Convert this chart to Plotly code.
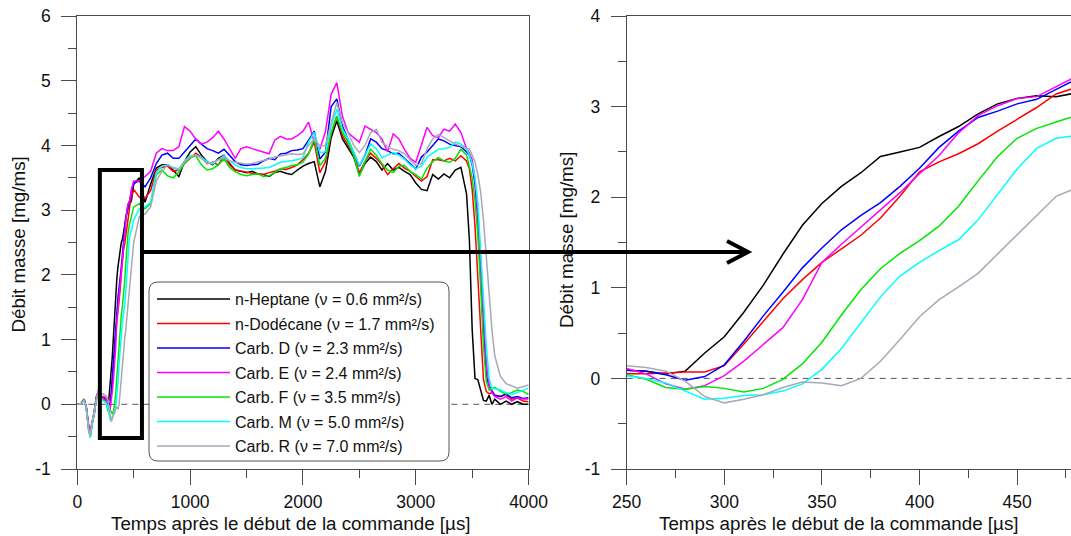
import plotly.graph_objects as go

# ---------------- data ----------------
NAMES = [
    "n-Heptane (ν = 0.6 mm²/s)",
    "n-Dodécane (ν = 1.7 mm²/s)",
    "Carb. D (ν = 2.3 mm²/s)",
    "Carb. E (ν = 2.4 mm²/s)",
    "Carb. F (ν = 3.5 mm²/s)",
    "Carb. M (ν = 5.0 mm²/s)",
    "Carb. R (ν = 7.0 mm²/s)",
]
COLORS = ["#000000", "#ff0000", "#0000ff", "#ff00ff", "#00e600", "#00ffff", "#a8a8b8"]

# early part (0-230 µs)
T_EARLY = [0, 30, 60, 80, 100, 115, 130, 150, 170, 190, 210, 230]
EARLY_HEPTANE = [0, 0.0, 0.08, -0.05, -0.35, -0.48, -0.32, -0.12, 0.12, 0.20, 0.08, 0.12]
EARLY_DODECANE = [0, 0.0, 0.08, -0.06, -0.38, -0.50, -0.30, -0.15, 0.10, 0.18, 0.10, 0.08]
EARLY_D = [0, 0.0, 0.07, -0.05, -0.36, -0.49, -0.31, -0.14, 0.10, 0.17, 0.12, 0.10]
EARLY_E = [0, 0.0, 0.08, -0.04, -0.30, -0.42, -0.28, -0.15, 0.12, 0.22, 0.12, 0.12]
EARLY_F = [0, 0.0, 0.07, -0.06, -0.38, -0.50, -0.33, -0.13, 0.08, 0.20, 0.10, 0.06]
EARLY_M = [0, 0.0, 0.06, -0.06, -0.40, -0.52, -0.33, -0.14, 0.08, 0.20, 0.10, 0.05]
EARLY_R = [0, 0.0, 0.06, -0.07, -0.40, -0.50, -0.30, -0.12, 0.10, 0.25, 0.15, 0.16]

# needle-opening part (250-480 µs, 10 µs steps) - shown in the zoom panel
T_ZOOM = [250, 260, 270, 280, 290, 300, 310, 320, 330, 340, 350, 360,
          370, 380, 390, 400, 410, 420, 430, 440, 450, 460, 470, 480]
ZOOM_HEPTANE = [0.09, 0.08, 0.05, 0.08, 0.28, 0.46, 0.73, 1.03, 1.37, 1.69, 1.93, 2.12,
                2.27, 2.45, 2.50, 2.55, 2.67, 2.78, 2.92, 3.03, 3.09, 3.12, 3.11, 3.15]
ZOOM_DODECANE = [0.05, 0.05, 0.06, 0.07, 0.07, 0.14, 0.38, 0.63, 0.88, 1.09, 1.28, 1.43,
                 1.58, 1.77, 2.01, 2.28, 2.39, 2.48, 2.59, 2.73, 2.86, 2.99, 3.14, 3.21]
ZOOM_D = [0.09, 0.08, 0.04, -0.02, 0.02, 0.15, 0.41, 0.69, 0.95, 1.22, 1.44, 1.64,
          1.80, 1.94, 2.12, 2.32, 2.55, 2.73, 2.88, 2.95, 3.03, 3.08, 3.19, 3.30]
ZOOM_E = [0.11, 0.05, -0.06, -0.12, -0.08, 0.03, 0.19, 0.37, 0.56, 0.87, 1.28, 1.48,
          1.67, 1.86, 2.05, 2.26, 2.46, 2.71, 2.90, 3.01, 3.09, 3.11, 3.22, 3.33]
ZOOM_F = [0.04, -0.01, -0.10, -0.12, -0.09, -0.11, -0.15, -0.11, -0.01, 0.16, 0.40, 0.70,
          0.98, 1.21, 1.38, 1.52, 1.68, 1.90, 2.18, 2.45, 2.65, 2.76, 2.83, 2.90]
ZOOM_M = [0.03, 0.00, -0.05, -0.14, -0.23, -0.22, -0.19, -0.18, -0.14, -0.06, 0.10, 0.33,
          0.62, 0.90, 1.13, 1.28, 1.41, 1.53, 1.75, 2.03, 2.31, 2.54, 2.65, 2.68]
ZOOM_R = [0.14, 0.12, 0.08, -0.03, -0.20, -0.27, -0.23, -0.18, -0.10, -0.04, -0.05, -0.08,
          0.00, 0.19, 0.43, 0.68, 0.87, 1.01, 1.16, 1.37, 1.58, 1.80, 2.01, 2.10]

# rest of the injection (500-4000 µs)
T_LATE = [500, 550, 600, 650, 700, 750, 800, 850, 900, 950, 1000, 1050, 1100, 1150, 1200,
          1250, 1300, 1350, 1400, 1450, 1500, 1550, 1600, 1650, 1700, 1750, 1800, 1850,
          1900, 1950, 2000, 2050, 2100, 2150, 2200, 2250, 2300, 2350, 2400, 2450, 2500,
          2550, 2600, 2650, 2700, 2750, 2800, 2850, 2900, 2950, 3000, 3050, 3100, 3150,
          3200, 3250, 3300, 3350, 3400, 3450, 3475, 3500, 3525, 3550, 3575, 3600, 3625,
          3650, 3675, 3700, 3750, 3800, 3850, 3900, 3950, 4000]
LATE_HEPTANE = [3.40, 3.50, 3.12, 3.40, 3.65, 3.70, 3.70, 3.62, 3.52, 3.75, 3.90, 3.98, 3.85, 3.75, 3.70,
                3.80, 3.85, 3.72, 3.62, 3.60, 3.58, 3.60, 3.56, 3.55, 3.52, 3.58, 3.60, 3.57,
                3.55, 3.62, 3.68, 3.72, 3.75, 3.36, 3.60, 4.12, 4.38, 4.10, 3.95, 3.82, 3.55,
                3.72, 3.82, 3.75, 3.62, 3.72, 3.62, 3.66, 3.60, 3.55, 3.42, 3.32, 3.30, 3.55,
                3.48, 3.56, 3.50, 3.62, 3.66, 3.25, 2.55, 1.15, 0.40, 0.38, 0.22, 0.06, 0.05,
                0.14, 0.00, 0.08, 0.00, 0.05, 0.00, 0.04, 0.00, 0.00]
LATE_DODECANE = [3.32, 3.20, 3.18, 3.30, 3.62, 3.66, 3.68, 3.60, 3.62, 3.72, 3.80, 3.88, 3.82, 3.72, 3.74,
                 3.70, 3.84, 3.70, 3.62, 3.60, 3.58, 3.57, 3.56, 3.55, 3.58, 3.60, 3.64, 3.63,
                 3.66, 3.70, 3.78, 3.88, 4.05, 3.58, 3.75, 4.18, 4.45, 4.15, 4.00, 3.85, 3.58,
                 3.75, 3.88, 3.80, 3.70, 3.55, 3.64, 3.72, 3.65, 3.60, 3.52, 3.45, 3.52, 3.78,
                 3.78, 3.76, 3.80, 3.76, 3.84, 3.76, 3.64, 3.32, 2.75, 1.95, 1.05, 0.38, 0.20,
                 0.16, 0.18, 0.14, 0.12, 0.15, 0.08, 0.10, 0.05, 0.04]
LATE_D = [3.42, 3.45, 3.36, 3.50, 3.72, 3.85, 3.88, 3.80, 3.80, 3.90, 4.00, 4.10, 4.02, 3.95, 3.92,
          3.88, 3.94, 3.85, 3.75, 3.70, 3.69, 3.70, 3.71, 3.76, 3.80, 3.78, 3.87, 3.88,
          3.92, 3.93, 3.95, 4.08, 4.22, 3.79, 3.90, 4.60, 4.72, 4.30, 4.10, 3.90, 3.68,
          3.85, 4.10, 4.05, 3.95, 3.92, 3.87, 3.88, 3.80, 3.72, 3.64, 3.82, 3.90, 4.00,
          4.10, 4.07, 4.02, 4.00, 3.98, 3.90, 3.85, 3.70, 3.40, 2.85, 2.05, 1.20, 0.45,
          0.28, 0.20, 0.14, 0.12, 0.16, 0.10, 0.12, 0.09, 0.10]
LATE_E = [3.45, 3.45, 3.52, 3.60, 3.88, 3.95, 3.92, 3.92, 3.98, 4.29, 4.22, 4.10, 4.02, 4.05, 4.12,
          4.22, 4.10, 3.95, 3.80, 3.95, 3.98, 3.95, 3.92, 3.90, 3.87, 4.08, 4.14, 4.10,
          4.10, 4.15, 4.22, 4.36, 4.05, 3.94, 4.22, 4.79, 4.97, 4.45, 4.20, 4.12, 4.05,
          4.30, 4.25, 4.20, 4.10, 3.90, 4.18, 4.10, 3.94, 3.80, 3.74, 4.00, 4.28, 4.15,
          4.12, 4.25, 4.22, 4.33, 4.20, 3.95, 3.88, 3.78, 3.48, 2.95, 2.25, 1.40, 0.65,
          0.30, 0.18, 0.12, 0.08, 0.12, 0.05, 0.10, 0.08, 0.08]
LATE_F = [3.05, 3.10, 3.02, 3.10, 3.55, 3.62, 3.53, 3.50, 3.59, 3.72, 3.81, 3.84, 3.70, 3.62, 3.64,
          3.70, 3.79, 3.66, 3.59, 3.55, 3.53, 3.55, 3.56, 3.52, 3.53, 3.58, 3.64, 3.66,
          3.69, 3.70, 3.74, 3.87, 4.10, 3.69, 3.80, 4.20, 4.45, 4.20, 4.05, 3.85, 3.52,
          3.75, 3.94, 3.85, 3.72, 3.62, 3.58, 3.68, 3.69, 3.60, 3.55, 3.48, 3.65, 3.75,
          3.81, 3.76, 3.74, 3.80, 3.94, 3.85, 3.68, 3.50, 3.15, 2.60, 1.80, 0.90, 0.35,
          0.22, 0.24, 0.26, 0.20, 0.16, 0.18, 0.22, 0.20, 0.15]
LATE_M = [2.85, 3.02, 3.05, 3.12, 3.58, 3.68, 3.70, 3.66, 3.64, 3.76, 3.84, 3.85, 3.82, 3.75, 3.71,
          3.78, 3.84, 3.76, 3.70, 3.66, 3.64, 3.64, 3.64, 3.65, 3.66, 3.70, 3.74, 3.75,
          3.76, 3.78, 3.81, 4.05, 4.20, 3.89, 3.90, 4.30, 4.56, 4.25, 4.10, 3.90, 3.69,
          3.85, 4.02, 3.95, 3.81, 3.85, 3.89, 3.85, 3.79, 3.70, 3.64, 3.68, 3.82, 3.88,
          3.94, 3.95, 3.97, 4.05, 4.02, 3.95, 3.85, 3.72, 3.50, 3.12, 2.45, 1.65, 0.90,
          0.40, 0.25, 0.24, 0.22, 0.18, 0.15, 0.18, 0.22, 0.25]
LATE_R = [2.50, 2.90, 2.94, 3.05, 3.45, 3.60, 3.70, 3.65, 3.62, 3.75, 3.82, 3.85, 3.80, 3.72, 3.74,
          3.78, 3.81, 3.76, 3.74, 3.72, 3.71, 3.72, 3.74, 3.77, 3.79, 3.82, 3.84, 3.86,
          3.87, 3.86, 3.87, 4.00, 4.10, 3.99, 4.00, 4.35, 4.66, 4.35, 4.20, 4.00, 3.89,
          4.00, 4.20, 4.25, 4.05, 3.98, 3.94, 3.92, 3.87, 3.78, 3.69, 3.72, 3.95, 4.10,
          4.17, 4.12, 4.07, 4.02, 3.99, 3.95, 3.95, 3.85, 3.75, 3.55, 3.28, 2.85, 2.30,
          1.70, 1.15, 0.75, 0.43, 0.32, 0.28, 0.25, 0.27, 0.30]

EARLY = [EARLY_HEPTANE, EARLY_DODECANE, EARLY_D, EARLY_E, EARLY_F, EARLY_M, EARLY_R]
ZOOM = [ZOOM_HEPTANE, ZOOM_DODECANE, ZOOM_D, ZOOM_E, ZOOM_F, ZOOM_M, ZOOM_R]
LATE = [LATE_HEPTANE, LATE_DODECANE, LATE_D, LATE_E, LATE_F, LATE_M, LATE_R]

LEFT_XTICKS = [0, 1000, 2000, 3000, 4000]
LEFT_YTICKS = [-1, 0, 1, 2, 3, 4, 5, 6]
LEFT_YLABELS = ["-1", "0", "1", "2", "3", "4", "5", "6"]
RIGHT_XTICKS = [250, 300, 350, 400, 450]
RIGHT_YTICKS = [-1, 0, 1, 2, 3, 4]
RIGHT_YLABELS = ["-1", "0", "1", "2", "3", "4"]

X_TITLE = "Temps après le début de la commande [µs]"
Y_TITLE = "Débit masse [mg/ms]"

# ---------------- figure ----------------
W, H = 1071, 536
FONT = "Arial, 'Liberation Sans', sans-serif"
AX = "#4a4a4a"


def px(x):
    return x / W


def py(y):
    return 1 - y / H


fig = go.Figure()

for i in range(7):
    t_full = T_EARLY + T_ZOOM + T_LATE
    y_full = EARLY[i] + ZOOM[i] + LATE[i]
    fig.add_trace(go.Scatter(x=t_full, y=y_full, mode="lines", name=NAMES[i],
                             legendgroup=f"g{i}",
                             line=dict(color=COLORS[i], width=1.5),
                             xaxis="x", yaxis="y", showlegend=True))
for i in range(7):
    fig.add_trace(go.Scatter(x=T_ZOOM, y=ZOOM[i], mode="lines", name=NAMES[i],
                             legendgroup=f"g{i}",
                             line=dict(color=COLORS[i], width=1.5),
                             xaxis="x2", yaxis="y2", showlegend=False))

axis_common = dict(showline=True, linecolor=AX, linewidth=1,
                   ticks="outside", ticklen=15, tickcolor=AX, tickwidth=1,
                   showgrid=False, zeroline=False, automargin=False,
                   tickfont=dict(family=FONT, size=17.5, color="#111111"))

fig.update_layout(
    template="none",
    width=W, height=H,
    margin=dict(l=0, r=0, t=0, b=0, pad=0),
    paper_bgcolor="white", plot_bgcolor="white",
    font=dict(family=FONT, color="#111111"),
    xaxis=dict(domain=[px(77.3), px(528.6)], range=[0, 4000], tickvals=LEFT_XTICKS,
               anchor="y", mirror=True, ticklabelstandoff=2,
               minor=dict(dtick=500, ticks="outside", ticklen=8, tickcolor=AX, showgrid=False),
               **axis_common),
    yaxis=dict(domain=[py(469), py(16)], range=[-1, 6], tickvals=LEFT_YTICKS,
               ticktext=LEFT_YLABELS, anchor="x", mirror=True, ticklabelstandoff=7,
               minor=dict(dtick=0.5, ticks="outside", ticklen=8, tickcolor=AX, showgrid=False),
               **axis_common),
    xaxis2=dict(domain=[px(626.7), 1.0], range=[250, 477.6], tickvals=RIGHT_XTICKS,
                anchor="y2", mirror=True, ticklabelstandoff=2,
                minor=dict(dtick=25, ticks="outside", ticklen=8, tickcolor=AX, showgrid=False),
                **axis_common),
    yaxis2=dict(domain=[py(469), py(16)], range=[-1, 4], tickvals=RIGHT_YTICKS,
                ticktext=RIGHT_YLABELS, anchor="x2", mirror=False, ticklabelstandoff=7,
                minor=dict(dtick=0.5, ticks="outside", ticklen=8, tickcolor=AX, showgrid=False),
                **axis_common),
    legend=dict(x=px(152), y=py(282), xanchor="left", yanchor="top",
                bgcolor="rgba(0,0,0,0)", borderwidth=0, itemwidth=73,
                font=dict(family=FONT, size=16, color="#111111"),
                tracegroupgap=0.7),
    showlegend=True,
)

# zero reference lines (dashed)
for xr, yr in (("x domain", "y"), ("x2 domain", "y2")):
    fig.add_shape(type="line", xref=xr, yref=yr, x0=0, x1=1, y0=0, y1=0,
                  line=dict(color="#555555", width=1, dash="6px,5px"), layer="below")

# rounded legend frame
lx0, lx1, ly0, ly1, r = 149, 449, 282, 461, 9
path = (f"M{px(lx0 + r)},{py(ly0)} L{px(lx1 - r)},{py(ly0)} "
        f"Q{px(lx1)},{py(ly0)} {px(lx1)},{py(ly0 + r)} "
        f"L{px(lx1)},{py(ly1 - r)} Q{px(lx1)},{py(ly1)} {px(lx1 - r)},{py(ly1)} "
        f"L{px(lx0 + r)},{py(ly1)} Q{px(lx0)},{py(ly1)} {px(lx0)},{py(ly1 - r)} "
        f"L{px(lx0)},{py(ly0 + r)} Q{px(lx0)},{py(ly0)} {px(lx0 + r)},{py(ly0)} Z")
fig.add_shape(type="path", xref="paper", yref="paper", path=path,
              fillcolor="white", line=dict(color="#555555", width=1), layer="above")

# zoom window on the left panel
fig.add_shape(type="rect", xref="x", yref="y", x0=200, x1=573, y0=-0.52, y1=3.62,
              line=dict(color="black", width=4), fillcolor="rgba(0,0,0,0)", layer="above")

# arrow towards the zoom panel
fig.add_shape(type="line", xref="paper", yref="paper",
              x0=px(142), x1=px(748), y0=py(252), y1=py(252),
              line=dict(color="black", width=4), layer="above")
fig.add_shape(type="path", xref="paper", yref="paper",
              path=f"M{px(727)},{py(241)} L{px(748)},{py(252)} L{px(727)},{py(263)}",
              line=dict(color="black", width=4), layer="above")

# axis titles
title_font = dict(family=FONT, size=18.8, color="#111111")
fig.add_annotation(text=X_TITLE, xref="paper", yref="paper", x=px(290.6), y=py(523),
                   xanchor="center", yanchor="middle", showarrow=False, font=title_font)
fig.add_annotation(text=X_TITLE, xref="paper", yref="paper", x=px(838.8), y=py(523),
                   xanchor="center", yanchor="middle", showarrow=False, font=title_font)
fig.add_annotation(text=Y_TITLE, xref="paper", yref="paper", x=px(19), y=py(244.6),
                   xanchor="center", yanchor="middle", showarrow=False, textangle=-90,
                   font=title_font)
fig.add_annotation(text=Y_TITLE, xref="paper", yref="paper", x=px(567), y=py(240),
                   xanchor="center", yanchor="middle", showarrow=False, textangle=-90,
                   font=title_font)

# the page body has a default 8px margin: remove it so the figure fills the window
fig.write_html("out.html", config={"displayModeBar": False},
               post_script="document.body.style.margin='0';")
